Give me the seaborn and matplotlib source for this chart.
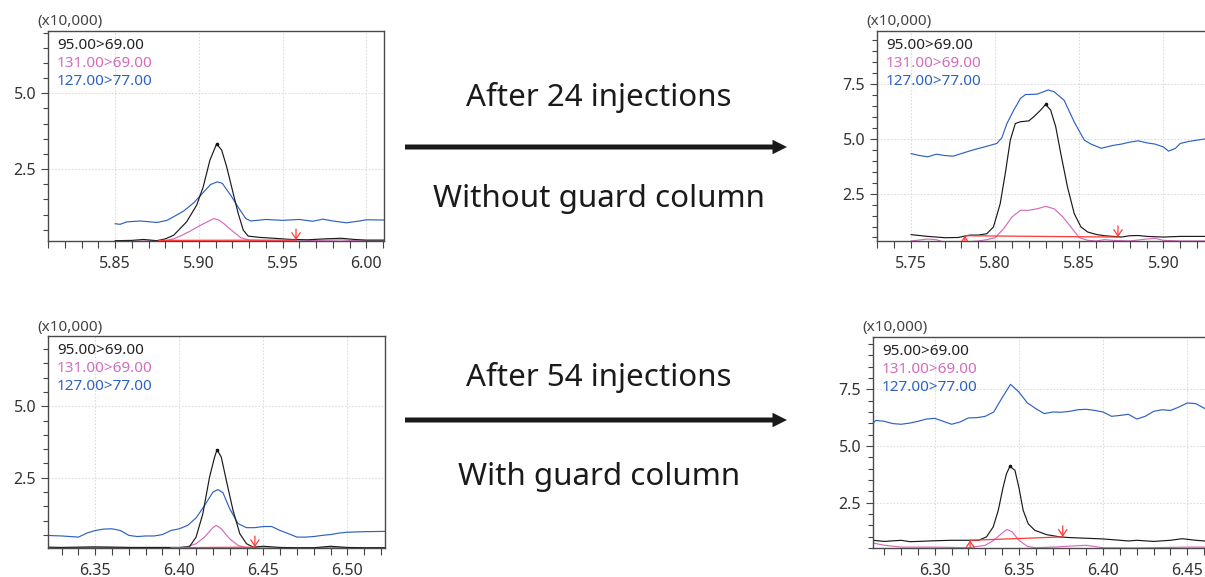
import matplotlib
matplotlib.use("Agg")
import numpy as np
import pandas as pd
import matplotlib.pyplot as plt
import seaborn as sns
from matplotlib.patches import FancyArrow
from matplotlib.ticker import MultipleLocator, FormatStrFormatter

# ---------------- data ----------------
SERIES = ["95.00>69.00", "131.00>69.00", "127.00>77.00"]
COLORS = ["#1a1a1a", "#d46cbc", "#2e62c2"]
Y_UNIT_LABEL = "(x10,000)"

# Panel 1: after 24 injections, reference (top-left)
t1_black = [5.850, 5.860, 5.867, 5.875, 5.880, 5.885, 5.8927, 5.8987, 5.9026, 5.9066, 5.9106, 5.9136,
            5.9166, 5.9205, 5.9235, 5.9265, 5.9295, 5.936, 5.945, 5.955, 5.965, 5.975, 5.985, 5.993,
            6.000, 6.011]
y1_black = [0.14, 0.15, 0.18, 0.14, 0.20, 0.32, 0.76, 1.31, 1.91, 2.79, 3.33, 3.13,
            2.58, 1.70, 1.04, 0.49, 0.29, 0.25, 0.22, 0.18, 0.17, 0.20, 0.22, 0.18,
            0.16, 0.16]
t1_pink = [5.850, 5.860, 5.870, 5.880, 5.885, 5.890, 5.895, 5.900, 5.905, 5.909, 5.912, 5.915,
           5.920, 5.925, 5.930, 5.940, 5.950, 5.960, 5.970, 5.980, 5.985, 5.990, 6.000, 6.011]
y1_pink = [0.10, 0.12, 0.13, 0.14, 0.20, 0.32, 0.46, 0.62, 0.76, 0.87, 0.82, 0.70,
           0.46, 0.24, 0.16, 0.14, 0.14, 0.13, 0.15, 0.16, 0.17, 0.15, 0.13, 0.13]
t1_blue = [5.850, 5.853, 5.857, 5.865, 5.875, 5.881, 5.885, 5.891, 5.897, 5.903, 5.907, 5.911,
           5.914, 5.919, 5.924, 5.928, 5.931, 5.940, 5.950, 5.960, 5.968, 5.974, 5.980, 5.988,
           5.996, 6.000, 6.011]
y1_blue = [0.70, 0.68, 0.76, 0.79, 0.74, 0.81, 0.93, 1.12, 1.39, 1.75, 1.99, 2.08,
           2.03, 1.64, 1.20, 0.87, 0.79, 0.84, 0.81, 0.84, 0.78, 0.85, 0.79, 0.73,
           0.79, 0.83, 0.82]
base1_t = [5.876, 5.958]
base1_y = [0.15, 0.16]

# Panel 2: after 24 injections, without guard column (top-right)
t2_black = [5.750, 5.760, 5.770, 5.778, 5.785, 5.790, 5.795, 5.799, 5.803, 5.806, 5.809, 5.812,
            5.815, 5.820, 5.823, 5.827, 5.830, 5.833, 5.836, 5.839, 5.843, 5.847, 5.851, 5.855,
            5.860, 5.865, 5.870, 5.875, 5.880, 5.885, 5.890, 5.900, 5.910, 5.925]
y2_black = [0.63, 0.55, 0.49, 0.50, 0.61, 0.61, 0.67, 0.98, 2.04, 3.41, 4.94, 5.70,
            5.78, 5.82, 6.01, 6.31, 6.57, 6.31, 5.55, 4.33, 2.80, 1.59, 0.98, 0.75,
            0.64, 0.58, 0.55, 0.52, 0.58, 0.59, 0.55, 0.52, 0.55, 0.55]
t2_pink = [5.750, 5.760, 5.765, 5.770, 5.780, 5.785, 5.790, 5.795, 5.800, 5.805, 5.810, 5.815,
           5.820, 5.825, 5.830, 5.835, 5.840, 5.845, 5.850, 5.855, 5.860, 5.865, 5.870, 5.880,
           5.890, 5.895, 5.900, 5.910, 5.925]
y2_pink = [0.34, 0.43, 0.40, 0.28, 0.22, 0.31, 0.34, 0.40, 0.49, 0.90, 1.43, 1.74,
           1.74, 1.81, 1.92, 1.81, 1.46, 0.98, 0.49, 0.37, 0.34, 0.40, 0.37, 0.34,
           0.43, 0.46, 0.37, 0.34, 0.34]
t2_blue = [5.750, 5.755, 5.760, 5.765, 5.770, 5.775, 5.780, 5.785, 5.790, 5.795, 5.801, 5.804,
           5.807, 5.811, 5.815, 5.818, 5.825, 5.8315, 5.835, 5.841, 5.847, 5.853, 5.857, 5.863,
           5.870, 5.875, 5.880, 5.885, 5.890, 5.895, 5.900, 5.903, 5.907, 5.910, 5.915, 5.920,
           5.925]
y2_blue = [4.33, 4.24, 4.18, 4.30, 4.24, 4.21, 4.33, 4.45, 4.56, 4.66, 4.79, 5.05,
           5.70, 6.30, 6.84, 7.02, 7.04, 7.23, 7.15, 6.76, 5.77, 4.94, 4.76, 4.57,
           4.70, 4.76, 4.85, 4.91, 4.82, 4.76, 4.63, 4.44, 4.56, 4.79, 4.88, 4.94,
           5.00]
base2_t = [5.782, 5.873]
base2_y = [0.58, 0.52]

# Panel 3: after 54 injections, reference (bottom-left)
t3_black = [6.322, 6.330, 6.340, 6.350, 6.360, 6.370, 6.380, 6.390, 6.400, 6.406, 6.410, 6.414,
            6.418, 6.421, 6.4225, 6.425, 6.428, 6.432, 6.436, 6.440, 6.444, 6.450, 6.460, 6.470,
            6.480, 6.490, 6.500, 6.510, 6.5225]
y3_black = [0.08, 0.07, 0.08, 0.09, 0.08, 0.07, 0.07, 0.07, 0.07, 0.09, 0.43, 1.24,
            2.52, 3.22, 3.48, 3.22, 2.41, 1.36, 0.55, 0.20, 0.08, 0.11, 0.07, 0.06,
            0.06, 0.11, 0.07, 0.06, 0.06]
t3_pink = [6.322, 6.340, 6.360, 6.380, 6.400, 6.405, 6.410, 6.415, 6.420, 6.422, 6.425, 6.430,
           6.435, 6.440, 6.450, 6.470, 6.490, 6.5225]
y3_pink = [0.05, 0.06, 0.07, 0.06, 0.06, 0.10, 0.20, 0.43, 0.76, 0.84, 0.72, 0.37,
           0.14, 0.06, 0.05, 0.05, 0.06, 0.05]
t3_blue = [6.322, 6.325, 6.330, 6.335, 6.340, 6.345, 6.350, 6.355, 6.360, 6.365, 6.370, 6.375,
           6.380, 6.385, 6.390, 6.395, 6.400, 6.405, 6.410, 6.415, 6.420, 6.423, 6.426, 6.430,
           6.435, 6.440, 6.445, 6.450, 6.455, 6.460, 6.465, 6.470, 6.475, 6.480, 6.485, 6.490,
           6.495, 6.500, 6.510, 6.5225]
y3_blue = [0.49, 0.48, 0.47, 0.45, 0.43, 0.57, 0.66, 0.71, 0.72, 0.66, 0.49, 0.45,
           0.47, 0.47, 0.52, 0.66, 0.72, 0.84, 1.10, 1.53, 2.00, 2.09, 1.98, 1.42,
           0.90, 0.76, 0.76, 0.80, 0.80, 0.66, 0.55, 0.43, 0.43, 0.45, 0.49, 0.52,
           0.57, 0.60, 0.62, 0.63]
base3_t = [6.395, 6.445]
base3_y = [0.06, 0.08]

# Panel 4: after 54 injections, with guard column (bottom-right)
t4_black = [6.2633, 6.270, 6.280, 6.285, 6.290, 6.300, 6.310, 6.320, 6.326, 6.3307, 6.3347, 6.3377,
            6.3406, 6.3426, 6.3446, 6.3476, 6.3499, 6.3525, 6.3555, 6.3594, 6.3664, 6.3743, 6.380,
            6.390, 6.400, 6.410, 6.415, 6.420, 6.430, 6.440, 6.447, 6.455, 6.4605]
y4_black = [0.84, 0.79, 0.84, 0.78, 0.79, 0.82, 0.84, 0.84, 0.84, 0.99, 1.43, 2.16,
            3.19, 3.78, 4.10, 3.93, 3.19, 2.16, 1.57, 1.28, 1.09, 0.99, 0.96,
            0.93, 0.90, 0.84, 0.81, 0.84, 0.79, 0.84, 0.91, 0.84, 0.81]
t4_pink = [6.2633, 6.270, 6.280, 6.300, 6.320, 6.330, 6.335, 6.340, 6.343, 6.346, 6.350, 6.355,
           6.360, 6.370, 6.380, 6.390, 6.400, 6.420, 6.450, 6.4605]
y4_pink = [0.72, 0.62, 0.54, 0.54, 0.51, 0.62, 0.84, 1.16, 1.32, 1.21, 0.84, 0.57,
           0.51, 0.54, 0.58, 0.62, 0.51, 0.50, 0.54, 0.54]
t4_blue = [6.2633, 6.265, 6.270, 6.275, 6.280, 6.285, 6.290, 6.295, 6.300, 6.305, 6.310, 6.315,
           6.320, 6.325, 6.330, 6.335, 6.340, 6.345, 6.350, 6.355, 6.360, 6.365, 6.370, 6.375,
           6.380, 6.385, 6.390, 6.395, 6.400, 6.405, 6.410, 6.415, 6.420, 6.425, 6.430, 6.435,
           6.440, 6.445, 6.450, 6.455, 6.4605]
y4_blue = [6.01, 6.13, 6.09, 5.99, 5.96, 6.01, 6.09, 6.19, 6.22, 6.09, 5.96, 6.06,
           6.24, 6.25, 6.31, 6.50, 7.13, 7.72, 7.38, 6.90, 6.65, 6.43, 6.50, 6.49,
           6.53, 6.60, 6.62, 6.57, 6.50, 6.31, 6.35, 6.40, 6.19, 6.31, 6.53, 6.60,
           6.57, 6.72, 6.90, 6.87, 6.65]
base4_t = [6.321, 6.376]
base4_y = [0.84, 0.99]

XLIMS = [(5.810, 6.0105), (5.7298, 5.9247), (6.3219, 6.5224), (6.2633, 6.4605)]
YLIMS = [(0.13, 7.05), (0.34, 9.92), (0.05, 7.45), (0.50, 9.81)]

ARROW_TEXTS = [("After 24 injections", "Without guard column"),
               ("After 54 injections", "With guard column")]

# ---------------- style ----------------
sns.set_theme(style="white")
plt.rcParams["font.family"] = ["Noto Sans", "DejaVu Sans"]

W, H = 1205, 577
fig = plt.figure(figsize=(W / 100, H / 100), dpi=100)

# axes rectangles in pixels: left, top, right, bottom
RECTS = [(48, 31, 384, 241), (877, 31, 1205, 241), (48, 336, 385, 548), (873, 337, 1205, 548)]

RED = "#ff3838"
palette = dict(zip(SERIES, COLORS))
draw_order = [SERIES[2], SERIES[1], SERIES[0]]

panels = [
    ((t1_black, y1_black), (t1_pink, y1_pink), (t1_blue, y1_blue), (base1_t, base1_y)),
    ((t2_black, y2_black), (t2_pink, y2_pink), (t2_blue, y2_blue), (base2_t, base2_y)),
    ((t3_black, y3_black), (t3_pink, y3_pink), (t3_blue, y3_blue), (base3_t, base3_y)),
    ((t4_black, y4_black), (t4_pink, y4_pink), (t4_blue, y4_blue), (base4_t, base4_y)),
]


def red_arrow(ax, x, y, direction):
    ann = ax.annotate("", xy=(x, y), xytext=(0, 8 * direction), textcoords="offset points",
                      arrowprops=dict(arrowstyle="->,head_length=0.45,head_width=0.3", color=RED,
                                      lw=0.9, shrinkA=0, shrinkB=0, mutation_scale=10))
    ann.arrow_patch.set_clip_path(ax.patch)


for i, (panel, rect, xl, yl) in enumerate(zip(panels, RECTS, XLIMS, YLIMS)):
    l, t, r, b = rect
    ax = fig.add_axes([l / W, 1 - b / H, (r - l) / W, (b - t) / H])
    frames = []
    for name, (tt, yy) in zip(SERIES, panel[:3]):
        frames.append(pd.DataFrame({"time": tt, "intensity": yy, "trace": name}))
    df = pd.concat(frames, ignore_index=True)
    sns.lineplot(data=df, x="time", y="intensity", hue="trace", hue_order=draw_order,
                 palette=palette, estimator=None, sort=False, linewidth=0.85, legend=False, ax=ax)

    # integration baseline + start/end markers
    bt, by = panel[3]
    ax.plot(bt, by, color=RED, lw=0.9, zorder=4)
    red_arrow(ax, bt[0], by[0], -1)
    red_arrow(ax, bt[1], by[1], +1)

    # apex marker on the quantifier trace
    tb, yb = np.asarray(panel[0][0]), np.asarray(panel[0][1])
    k = int(np.argmax(yb))
    ax.plot([tb[k]], [yb[k]], marker="o", ms=1.6, color="#111111", zorder=5)

    ax.set_xlim(*xl)
    ax.set_ylim(*yl)
    ax.set_xlabel("")
    ax.set_ylabel("")
    ax.xaxis.set_major_locator(MultipleLocator(0.05))
    ax.xaxis.set_minor_locator(MultipleLocator(0.01))
    ax.yaxis.set_major_locator(MultipleLocator(2.5))
    ax.yaxis.set_minor_locator(MultipleLocator(0.5))
    ax.xaxis.set_major_formatter(FormatStrFormatter("%.2f"))
    ax.yaxis.set_major_formatter(FormatStrFormatter("%.1f"))
    ax.tick_params(which="both", bottom=True, left=True, top=False, right=False,
                   direction="out", color="#444444", labelcolor="#333333", labelsize=11.5, width=0.8)
    ax.tick_params(axis="x", which="both", length=5, pad=5.5)
    ax.tick_params(axis="y", which="major", length=5, pad=3.5)
    ax.tick_params(axis="y", which="minor", length=3.5)
    ax.grid(True, which="major", color="#dcdcdc", lw=0.8, ls=(0, (1.5, 1.5)))
    ax.set_axisbelow(True)
    for side, sp in ax.spines.items():
        sp.set_color("#4a4a4a")
        sp.set_linewidth(1.0)
    if i in (1, 3):
        ax.spines["right"].set_visible(False)

    ax.annotate(Y_UNIT_LABEL, xy=(0, 1), xycoords="axes fraction", xytext=(-11, 9),
                textcoords="offset pixels", ha="left", va="center", fontsize=11, color="#444444")
    for j, (name, col) in enumerate(zip(SERIES, COLORS)):
        ax.annotate(name, xy=(0, 1), xycoords="axes fraction", xytext=(9, -18 - 18 * j),
                    textcoords="offset pixels", ha="left", va="baseline", fontsize=11,
                    color=col if j else "#222222")

# central arrows and captions
for (top_txt, bot_txt), y_arrow, y_top, y_bot in zip(ARROW_TEXTS, [147, 420], [106, 386], [207, 485]):
    fig.text(599 / W, 1 - y_top / H, top_txt, ha="center", va="baseline", fontsize=22.5, color="#1a1a1a")
    fig.text(599 / W, 1 - y_bot / H, bot_txt, ha="center", va="baseline", fontsize=22.5, color="#1a1a1a")
    fig.add_artist(FancyArrow(405 / 100, (H - y_arrow) / 100, 382 / 100, 0, width=0.05,
                              head_width=0.145, head_length=0.145, length_includes_head=True,
                              transform=fig.dpi_scale_trans, color="#1a1a1a", lw=0))

fig.savefig("out.png", dpi=100)
